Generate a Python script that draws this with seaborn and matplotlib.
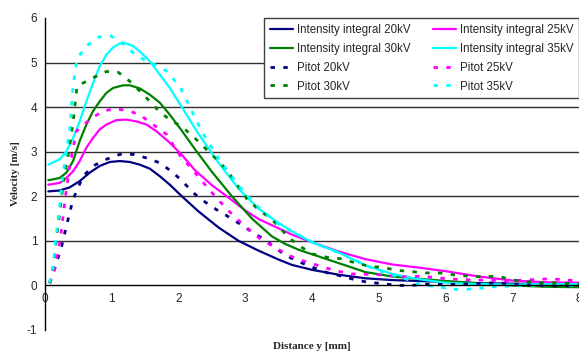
import matplotlib
matplotlib.use("Agg")
import matplotlib.pyplot as plt
import seaborn as sns

# Intensity integral curves (solid)
ii20_x = [0.05, 0.22, 0.37, 0.52, 0.67, 0.82, 0.97, 1.12, 1.27, 1.42, 1.57, 1.72, 1.87, 2.05, 2.3, 2.6, 2.9, 3.2, 3.5, 3.7, 4.0, 4.4, 4.8, 5.2, 5.6, 6.0, 6.5, 7.0, 7.5, 8.0]
ii20_y = [2.11, 2.13, 2.20, 2.34, 2.53, 2.68, 2.77, 2.79, 2.77, 2.71, 2.62, 2.45, 2.26, 2.00, 1.66, 1.30, 1.00, 0.78, 0.58, 0.46, 0.35, 0.24, 0.16, 0.12, 0.10, 0.08, 0.05, 0.04, 0.03, 0.03]

ii25_x = [0.05, 0.22, 0.32, 0.42, 0.52, 0.62, 0.72, 0.82, 0.92, 1.07, 1.22, 1.37, 1.52, 1.67, 1.87, 2.05, 2.25, 2.5, 2.75, 3.0, 3.2, 3.4, 3.7, 4.0, 4.4, 4.8, 5.2, 5.6, 6.0, 6.5, 7.0, 7.5, 8.0]
ii25_y = [2.26, 2.30, 2.41, 2.56, 2.79, 3.09, 3.31, 3.50, 3.61, 3.71, 3.72, 3.68, 3.61, 3.46, 3.20, 2.93, 2.58, 2.25, 1.97, 1.68, 1.49, 1.35, 1.14, 0.97, 0.76, 0.59, 0.47, 0.40, 0.32, 0.20, 0.11, 0.07, 0.06]

ii30_x = [0.05, 0.22, 0.32, 0.42, 0.52, 0.62, 0.72, 0.82, 0.92, 1.02, 1.17, 1.27, 1.42, 1.57, 1.72, 1.87, 2.05, 2.25, 2.5, 2.8, 3.1, 3.4, 3.6, 3.8, 4.0, 4.4, 4.8, 5.2, 5.6, 6.0, 6.5, 7.0, 7.5, 8.0]
ii30_y = [2.36, 2.41, 2.53, 2.79, 3.24, 3.61, 3.91, 4.13, 4.32, 4.43, 4.49, 4.49, 4.42, 4.28, 4.10, 3.83, 3.47, 3.05, 2.55, 2.00, 1.50, 1.10, 0.93, 0.80, 0.70, 0.50, 0.30, 0.20, 0.15, 0.10, 0.05, 0.00, -0.03, -0.04]

ii35_x = [0.05, 0.22, 0.32, 0.42, 0.52, 0.62, 0.72, 0.82, 0.92, 1.02, 1.12, 1.22, 1.32, 1.42, 1.57, 1.72, 1.87, 2.05, 2.3, 2.6, 2.9, 3.2, 3.5, 3.75, 4.0, 4.4, 4.8, 5.2, 5.6, 6.0, 6.5, 7.0, 7.5, 8.0]
ii35_y = [2.71, 2.83, 3.01, 3.31, 3.68, 4.13, 4.54, 4.92, 5.18, 5.34, 5.43, 5.43, 5.37, 5.25, 5.03, 4.73, 4.43, 4.00, 3.40, 2.75, 2.17, 1.72, 1.40, 1.17, 0.97, 0.74, 0.45, 0.26, 0.14, 0.06, 0.03, 0.02, 0.03, 0.03]

# Pitot measurements (dashed)
p20_x = [0.07, 0.15, 0.25, 0.32, 0.42, 0.57, 0.72, 0.92, 1.12, 1.32, 1.52, 1.72, 1.92, 2.07, 2.22, 2.40, 2.57, 2.75, 2.95, 3.12, 3.30, 3.47, 3.62, 3.82, 4.02, 4.24, 4.44, 4.64, 4.84, 5.07, 5.27, 5.49, 5.71, 6.02, 6.37, 6.77, 7.12, 7.52, 8.0]
p20_y = [0.05, 0.40, 0.88, 1.33, 1.93, 2.45, 2.68, 2.83, 2.94, 2.94, 2.86, 2.75, 2.53, 2.32, 2.08, 1.87, 1.70, 1.54, 1.35, 1.18, 1.02, 0.82, 0.66, 0.52, 0.40, 0.28, 0.21, 0.13, 0.07, 0.04, 0.00, 0.00, 0.03, 0.02, 0.04, 0.06, 0.02, -0.01, -0.01]

p25_x = [0.07, 0.15, 0.23, 0.30, 0.37, 0.47, 0.67, 0.87, 1.07, 1.25, 1.42, 1.62, 1.82, 2.02, 2.22, 2.47, 2.72, 2.97, 3.22, 3.45, 3.62, 3.80, 4.00, 4.19, 4.39, 4.59, 4.81, 5.00, 5.22, 5.44, 5.64, 5.86, 6.22, 6.60, 6.92, 7.32, 7.57, 8.0]
p25_y = [0.05, 0.40, 1.03, 1.93, 2.68, 3.46, 3.72, 3.92, 3.96, 3.92, 3.83, 3.61, 3.39, 2.92, 2.58, 2.13, 1.72, 1.36, 1.05, 0.85, 0.70, 0.58, 0.49, 0.40, 0.32, 0.26, 0.25, 0.24, 0.21, 0.19, 0.21, 0.17, 0.13, 0.12, 0.10, 0.13, 0.15, 0.10]

p30_x = [0.07, 0.12, 0.17, 0.22, 0.28, 0.35, 0.42, 0.48, 0.72, 0.92, 1.10, 1.27, 1.42, 1.57, 1.72, 1.87, 2.07, 2.27, 2.42, 2.57, 2.72, 3.02, 3.20, 3.40, 3.67, 3.85, 4.02, 4.23, 4.43, 4.64, 4.86, 5.07, 5.27, 5.49, 5.71, 5.92, 6.22, 6.57, 6.77, 7.02, 7.37, 7.62, 8.0]
p30_y = [0.05, 0.40, 1.03, 1.63, 2.38, 2.95, 3.65, 4.47, 4.66, 4.80, 4.78, 4.58, 4.36, 4.13, 3.89, 3.72, 3.54, 3.27, 3.05, 2.83, 2.60, 1.95, 1.70, 1.48, 1.05, 0.85, 0.70, 0.63, 0.60, 0.51, 0.43, 0.40, 0.34, 0.31, 0.28, 0.28, 0.22, 0.19, 0.21, 0.12, 0.06, 0.06, 0.03]

p35_x = [0.07, 0.12, 0.16, 0.21, 0.26, 0.31, 0.37, 0.42, 0.48, 0.62, 0.80, 0.97, 1.15, 1.32, 1.52, 1.70, 1.82, 2.02, 2.22, 2.37, 2.62, 2.92, 3.22, 3.52, 4.02, 4.52, 4.80, 5.10, 5.40, 5.62, 5.87, 6.22, 6.47, 6.72, 7.22, 7.72, 8.0]
p35_y = [0.06, 0.40, 1.03, 1.63, 2.38, 2.90, 3.50, 4.47, 5.09, 5.37, 5.57, 5.61, 5.45, 5.22, 5.03, 4.92, 4.81, 4.46, 3.85, 3.40, 2.80, 2.20, 1.72, 1.35, 0.96, 0.66, 0.45, 0.28, 0.15, 0.02, -0.03, -0.10, -0.07, -0.03, 0.00, 0.02, -0.01]

navy, magenta, green, cyan = '#000080', '#FF00FF', '#008000', '#00FFFF'

sns.set_style('white')
plt.rcParams['font.family'] = ['Liberation Sans', 'DejaVu Sans']
plt.rcParams['axes.unicode_minus'] = False

fig = plt.figure(figsize=(5.79, 3.56), dpi=100)
ax = fig.add_axes([45 / 579, 26 / 356, 534 / 579, 312 / 356])

solid = [
    (ii20_x, ii20_y, navy, 'Intensity integral 20kV'),
    (ii25_x, ii25_y, magenta, 'Intensity integral 25kV'),
    (ii30_x, ii30_y, green, 'Intensity integral 30kV'),
    (ii35_x, ii35_y, cyan, 'Intensity integral 35kV'),
]
dashed = [
    (p20_x, p20_y, navy, 'Pitot 20kV'),
    (p25_x, p25_y, magenta, 'Pitot 25kV'),
    (p30_x, p30_y, green, 'Pitot 30kV'),
    (p35_x, p35_y, cyan, 'Pitot 35kV'),
]

handles = {}
for xs, ys, c, lab in solid:
    sns.lineplot(x=xs, y=ys, ax=ax, color=c, lw=1.6, sort=False, label=lab)
    handles[lab] = ax.get_lines()[-1]
for xs, ys, c, lab in dashed:
    sns.lineplot(x=xs, y=ys, ax=ax, color=c, lw=2.0, sort=False, label=lab,
                 linestyle=(0, (1.6, 3.0)))
    handles[lab] = ax.get_lines()[-1]

ax.set_xlim(0, 8)
ax.set_ylim(-1, 6)
ax.set_xticks(range(0, 9))
ax.set_yticks(range(-1, 7))

# grid lines only at 1..5 (0 is the axis itself)
for yv in range(1, 6):
    ax.axhline(yv, color='#303030', lw=1.0, zorder=0)

for s in ['top', 'right']:
    ax.spines[s].set_visible(False)
ax.spines['bottom'].set_position(('data', 0))
ax.spines['left'].set_position(('data', 0))
for s in ['bottom', 'left']:
    ax.spines[s].set_color('black')
    ax.spines[s].set_linewidth(1.0)
ax.tick_params(direction='out', length=3, width=1.0, color='black',
               labelsize=8.5, pad=2.5)

ax.set_xlabel('Distance y [mm]', fontfamily='Liberation Serif', fontweight='bold', fontsize=8)
ax.set_ylabel('Velocity [m/s]', fontfamily='Liberation Serif', fontweight='bold', fontsize=8)
ax.xaxis.set_label_coords(0.5, -0.038)
ax.yaxis.set_label_coords(-0.047, 0.5)

order = ['Intensity integral 20kV', 'Intensity integral 30kV', 'Pitot 20kV', 'Pitot 30kV',
         'Intensity integral 25kV', 'Intensity integral 35kV', 'Pitot 25kV', 'Pitot 35kV']
leg = ax.legend([handles[k] for k in order], order, ncol=2, loc='upper right',
                bbox_to_anchor=(1.0, 1.0), borderaxespad=0, fontsize=8.3,
                frameon=True, fancybox=False, framealpha=1, edgecolor='#404040',
                handlelength=2.0, handletextpad=0.3, columnspacing=2.0,
                labelspacing=0.6, borderpad=0.5)
leg.get_frame().set_linewidth(1.0)

fig.savefig('out.png', dpi=100)
